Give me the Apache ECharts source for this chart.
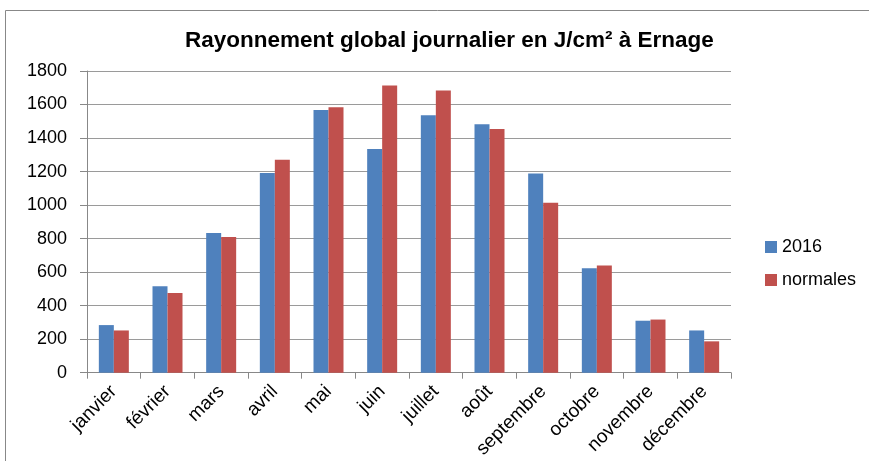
<!DOCTYPE html>
<html><head><meta charset="utf-8">
<script src="https://cdn.jsdelivr.net/npm/echarts@6/dist/echarts.min.js"></script>
<style>html,body{margin:0;padding:0;background:#fff}#c{width:869px;height:461px}</style>
</head><body><div id="c"></div>
<script>
const categories = ["janvier","février","mars","avril","mai","juin","juillet","août","septembre","octobre","novembre","décembre"];
const values2016 = [284, 516, 833, 1192, 1567, 1335, 1536, 1482, 1188, 623, 310, 252];
const valuesNormales = [252, 476, 810, 1270, 1583, 1714, 1683, 1454, 1014, 639, 317, 187];
const yTicks = [0, 200, 400, 600, 800, 1000, 1200, 1400, 1600, 1800];

const chart = echarts.init(document.getElementById('c'));
chart.setOption({
  animation: false,
  backgroundColor: '#fff',
  graphic: [{type:'rect', shape:{x:5.5,y:10.5,width:870,height:460}, style:{fill:'none', stroke:'#888', lineWidth:1}, silent:true}],
  title: {text: 'Rayonnement global journalier en J/cm² à Ernage', left: 180, top: 24,
    textStyle:{fontFamily:"'Liberation Sans', sans-serif", fontWeight:'bold', fontSize:22.5, color:'#000'}},
  legend: {orient:'vertical', left: 760, top: 233, itemWidth: 12, itemHeight: 12, itemGap: 15,
    icon:'rect', textStyle:{fontFamily:"'Liberation Sans', sans-serif", fontSize:18, color:'#000'},
    data:['2016','normales']},
  grid: {left: 87, right: 138, top: 71, bottom: 88},
  xAxis: {type:'category', data: categories,
    axisLine:{lineStyle:{color:'#888'}},
    axisTick:{show:true, alignWithLabel:false, length:6, lineStyle:{color:'#888'}},
    axisLabel:{rotate:45, fontFamily:"'Liberation Sans', sans-serif", fontSize:19, color:'#000', margin:16, interval:0}},
  yAxis: {type:'value', min: yTicks[0], max: yTicks[yTicks.length-1], interval: 200,
    axisLine:{show:true, lineStyle:{color:'#888'}},
    axisTick:{show:true, length:7, lineStyle:{color:'#888'}},
    splitLine:{lineStyle:{color:'#9a9a9a'}},
    axisLabel:{fontFamily:"'Liberation Sans', sans-serif", fontSize:18, color:'#000', margin:20, formatter: v => String(v)}},
  series: [
    {name:'2016', type:'bar', data: values2016, barWidth:15, barGap:'0%', itemStyle:{color:'#4f81bd'}},
    {name:'normales', type:'bar', data: valuesNormales, barWidth:15, barGap:'0%', itemStyle:{color:'#c0504d'}}
  ]
});
</script></body></html>
